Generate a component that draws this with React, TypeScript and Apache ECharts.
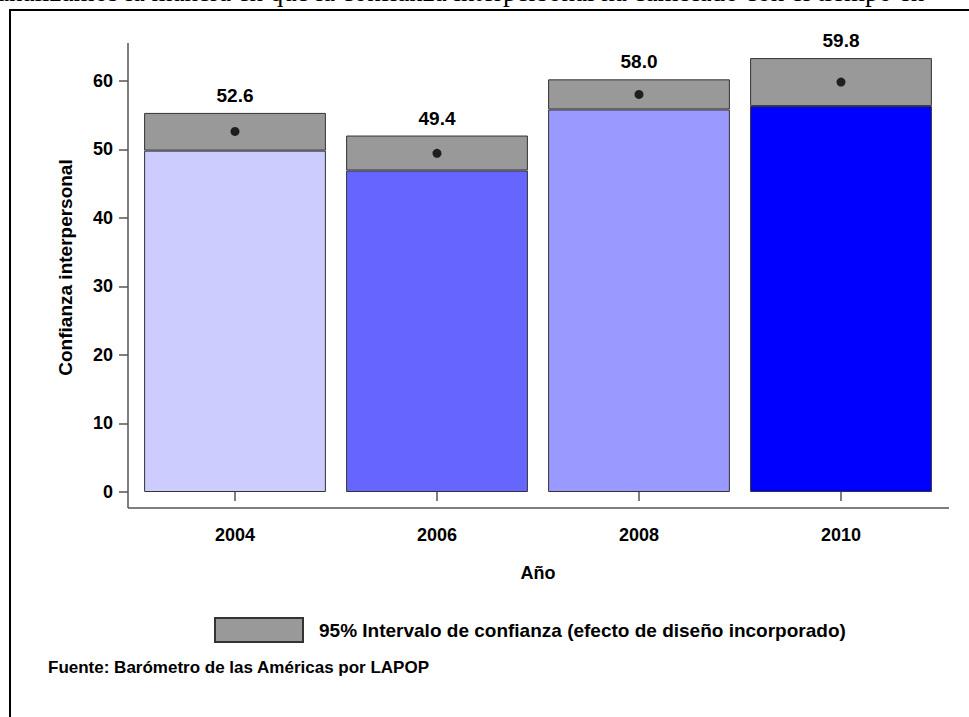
import React, { useEffect, useRef } from "react";
import * as echarts from "echarts";

const years = ["2004", "2006", "2008", "2010"];
const means = [52.6, 49.4, 58.0, 59.8];
const ciLower = [49.8, 46.9, 55.8, 56.3];
const ciUpper = [55.3, 52.0, 60.2, 63.3];
const barColors = ["#ccccff", "#6666ff", "#9999ff", "#0000ff"];
const yTicks = [0, 10, 20, 30, 40, 50, 60];
const ciName = "95% Intervalo de confianza (efecto de diseño incorporado)";
const yTitle = "Confianza interpersonal";
const xTitle = "Año";
const sourceText = "Fuente: Barómetro de las Américas por LAPOP";
const introText =
  "analizamos la manera en que la confianza interpersonal ha cambiado con el tiempo en";

const FONT = "'Liberation Sans', Arial, sans-serif";
const AXIS_COLOR = "#555555";

export default function App() {
  const ref = useRef<HTMLDivElement>(null);

  useEffect(() => {
    if (!ref.current) return;
    const chart = echarts.init(ref.current, null, { renderer: "svg" });

    const gridLeft = 134;
    const gridRight = 969 - 942;
    const gridTop = 43;
    const gridBottom = 717 - 492;
    const axisX = 128;
    const axisY = 508;

    const option: any = {
      animation: false,
      backgroundColor: "#ffffff",
      grid: {
        left: gridLeft,
        right: gridRight,
        top: gridTop,
        bottom: gridBottom,
        containLabel: false,
      },
      legend: {
        data: [ciName],
        left: 214,
        top: 617,
        padding: 0,
        icon: "rect",
        itemWidth: 88,
        itemHeight: 24,
        textStyle: {
          fontFamily: FONT,
          fontWeight: "bold",
          fontSize: 19,
          color: "#000",
          padding: [0, 0, 0, 11],
        },
        selectedMode: false,
      },
      xAxis: {
        type: "category",
        data: years,
        offset: 16,
        axisLine: { show: false },
        axisTick: {
          show: true,
          alignWithLabel: true,
          length: 9,
          lineStyle: { color: AXIS_COLOR, width: 1.5 },
        },
        axisLabel: {
          margin: 18,
          fontFamily: FONT,
          fontWeight: "bold",
          fontSize: 18,
          color: "#000",
        },
        name: xTitle,
        nameLocation: "middle",
        nameGap: 56,
        nameTextStyle: {
          fontFamily: FONT,
          fontWeight: "bold",
          fontSize: 18,
          color: "#000",
        },
      },
      yAxis: {
        type: "value",
        min: 0,
        max: 65.5,
        offset: 6,
        splitLine: { show: false },
        axisLine: { show: false },
        axisTick: {
          show: true,
          length: 9,
          customValues: yTicks,
          lineStyle: { color: AXIS_COLOR, width: 1.5 },
        },
        axisLabel: {
          customValues: yTicks,
          margin: 15,
          fontFamily: FONT,
          fontWeight: "bold",
          fontSize: 18,
          color: "#000",
        },
        name: yTitle,
        nameLocation: "middle",
        nameGap: 53,
        nameTextStyle: {
          fontFamily: FONT,
          fontWeight: "bold",
          fontSize: 19,
          color: "#000",
        },
      },
      series: [
        {
          name: "base",
          type: "bar",
          stack: "ci",
          barWidth: "90%",
          data: ciLower.map((v, i) => ({
            value: v,
            itemStyle: { color: barColors[i] },
          })),
          itemStyle: { borderColor: "#333333", borderWidth: 1 },
        },
        {
          name: ciName,
          type: "bar",
          stack: "ci",
          barWidth: "90%",
          data: ciUpper.map((u, i) => +(u - ciLower[i]).toFixed(2)),
          itemStyle: { color: "#999999", borderColor: "#333333", borderWidth: 1 },
          label: {
            show: true,
            position: "top",
            distance: 8,
            formatter: (p: any) => means[p.dataIndex].toFixed(1),
            fontFamily: FONT,
            fontWeight: "bold",
            fontSize: 19,
            color: "#000",
          },
        },
        {
          name: "mean",
          type: "scatter",
          data: means,
          symbol: "circle",
          symbolSize: 9,
          itemStyle: { color: "#000000" },
          z: 5,
        },
      ],
      graphic: [
        {
          type: "text",
          left: -3,
          top: -22,
          style: {
            text: introText,
            fontFamily: "'Liberation Serif', 'Times New Roman', serif",
            fontSize: 27,
            fill: "#000",
          },
        },
        {
          type: "line",
          shape: { x1: 10, y1: 10, x2: 969, y2: 10 },
          style: { stroke: "#000", lineWidth: 2 },
        },
        {
          type: "line",
          shape: { x1: 10, y1: 9, x2: 10, y2: 717 },
          style: { stroke: "#000", lineWidth: 2 },
        },
        {
          type: "line",
          shape: { x1: axisX, y1: gridTop, x2: axisX, y2: axisY },
          style: { stroke: AXIS_COLOR, lineWidth: 1.5 },
        },
        {
          type: "line",
          shape: { x1: axisX, y1: axisY, x2: 949, y2: axisY },
          style: { stroke: AXIS_COLOR, lineWidth: 1.5 },
        },
        {
          type: "text",
          left: 48,
          top: 659,
          style: {
            text: sourceText,
            fontFamily: FONT,
            fontWeight: "bold",
            fontSize: 17,
            fill: "#000",
          },
        },
      ],
    };

    chart.setOption(option);
    return () => chart.dispose();
  }, []);

  return (
    <div
      ref={ref}
      style={{ position: "absolute", left: 0, top: 0, width: 969, height: 717 }}
    />
  );
}
